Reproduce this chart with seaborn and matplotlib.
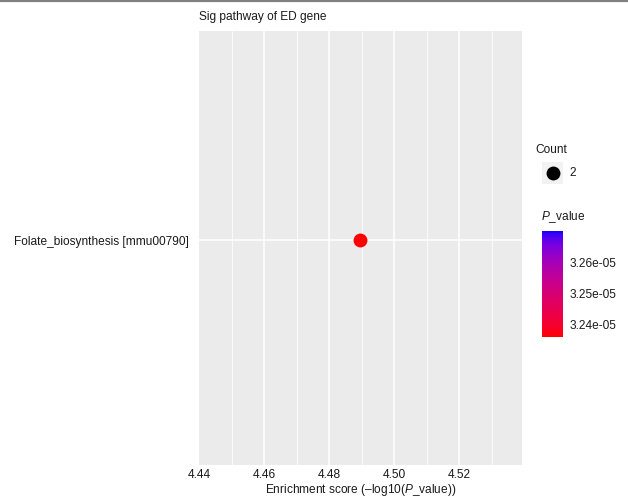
import numpy as np
import pandas as pd
import seaborn as sns
import matplotlib.pyplot as plt
import matplotlib as mpl
from matplotlib.colors import ListedColormap, Normalize
from matplotlib.lines import Line2D

# -----------------------------
# data
# -----------------------------
pathways = ["Folate_biosynthesis [mmu00790]"]
p_values = [3.241e-05]
counts = [2]

cbar_range = (3.2361e-05, 3.2703e-05)
cbar_ticks = [3.24e-05, 3.25e-05, 3.26e-05]
cbar_labels = ["3.24e-05", "3.25e-05", "3.26e-05"]
x_major = [4.44, 4.46, 4.48, 4.50, 4.52]
x_minor = [4.45, 4.47, 4.49, 4.51, 4.53]
x_labels = ["4.44", "4.46", "4.48", "4.50", "4.52"]

df = pd.DataFrame({"pathway": pathways, "P_value": p_values, "Count": counts})
df["score"] = -np.log10(df["P_value"])


# -----------------------------
# red -> blue gradient in Lab space (like ggplot)
# -----------------------------
M = np.array([[0.4124, 0.3576, 0.1805], [0.2126, 0.7152, 0.0722], [0.0193, 0.1192, 0.9505]])
WHITE = np.array([0.95047, 1.0, 1.08883])


def to_lab(rgb):
    c = np.array(rgb, dtype=float)
    c = np.where(c <= 0.04045, c / 12.92, ((c + 0.055) / 1.055) ** 2.4)
    xyz = M @ c / WHITE
    d = 6 / 29
    f = np.where(xyz > d ** 3, np.cbrt(xyz), xyz / (3 * d * d) + 4 / 29)
    return np.array([116 * f[1] - 16, 500 * (f[0] - f[1]), 200 * (f[1] - f[2])])


def from_lab(lab):
    L, a, b = lab
    fy = (L + 16) / 116
    f = np.array([fy + a / 500, fy, fy - b / 200])
    d = 6 / 29
    xyz = np.where(f > d, f ** 3, 3 * d * d * (f - 4 / 29)) * WHITE
    c = np.clip(np.linalg.inv(M) @ xyz, 0, 1)
    c = np.where(c <= 0.0031308, 12.92 * c, 1.055 * c ** (1 / 2.4) - 0.055)
    return np.clip(c, 0, 1)


lab_lo, lab_hi = to_lab([1, 0, 0]), to_lab([0, 0, 1])
cmap = ListedColormap([from_lab(lab_lo + t * (lab_hi - lab_lo)) for t in np.linspace(0, 1, 256)])
norm = Normalize(*cbar_range)
# the lowest P value maps to pure red, as in the reference
point_norm = Normalize(min(p_values), cbar_range[1])

# -----------------------------
# style
# -----------------------------
sns.set_style("white")
plt.rcParams["font.family"] = ["Liberation Sans", "DejaVu Sans"]
plt.rcParams["mathtext.fontset"] = "custom"
plt.rcParams["mathtext.rm"] = "Liberation Sans"
plt.rcParams["mathtext.it"] = "Liberation Sans:italic"
fs = 8.6
txt = "#1a1a1a"

fig = plt.figure(figsize=(6.28, 4.99), dpi=100)
W, H = 628, 499
ax = fig.add_axes([199 / W, 1 - 465 / H, 323 / W, 434 / H])
ax.set_facecolor("#EBEBEB")

sns.scatterplot(data=df, x="score", y="pathway", hue="P_value", palette=cmap,
                hue_norm=point_norm, s=100, linewidth=0, legend=False, ax=ax, zorder=3)

ax.set_xlim(4.44, 4.5392)
ax.set_ylim(0.622, -0.578)
ax.set_xticks(x_major)
ax.set_xticklabels(x_labels)
ax.set_xticks(x_minor, minor=True)
ax.grid(which="major", color="white", lw=1.1)
ax.grid(which="minor", axis="x", color="white", lw=0.55)
ax.xaxis.get_gridlines()[0].set_visible(False)
ax.set_axisbelow(True)
for s in ax.spines.values():
    s.set_visible(False)
ax.tick_params(which="both", length=0, labelsize=fs, labelcolor=txt)
ax.tick_params(axis="x", pad=3)
ax.tick_params(axis="y", pad=7)
ax.set_xlabel("Enrichment score (–log10($\\it{P}$_value))", fontsize=fs, color=txt, labelpad=0.5)
ax.set_ylabel("")

fig.text(199 / W, 1 - 17 / H, "Sig pathway of ED gene", fontsize=fs, color=txt, ha="left", va="center")

# top border line
fig.add_artist(Line2D([0, 1], [1 - 1 / H] * 2, color="#808080", lw=1.6, transform=fig.transFigure))

# -----------------------------
# Count legend
# -----------------------------
fig.text(535 / W, 1 - 150 / H, "Count", fontsize=fs, color=txt, ha="left", va="center")
lax = fig.add_axes([542 / W, 1 - 184 / H, 21 / W, 22 / H])
lax.set_facecolor("#F2F2F2")
lax.scatter([0], [0], s=100, color="black", linewidths=0)
lax.set_xlim(-1, 1)
lax.set_ylim(-1, 1)
lax.set_xticks([])
lax.set_yticks([])
for s in lax.spines.values():
    s.set_visible(False)
fig.text(569 / W, 1 - 173 / H, str(counts[0]), fontsize=fs, color=txt, ha="left", va="center")

# -----------------------------
# P_value colour bar
# -----------------------------
fig.text(541 / W, 1 - 217 / H, "$\\it{P}$_value", fontsize=fs, color=txt, ha="left", va="center")
cax = fig.add_axes([542 / W, 1 - 337 / H, 21 / W, 106 / H])
cb = fig.colorbar(mpl.cm.ScalarMappable(norm=norm, cmap=cmap), cax=cax)
cb.outline.set_visible(False)
cb.set_ticks(cbar_ticks)
cb.set_ticklabels(cbar_labels)
cax.tick_params(direction="in", color="white", length=4, width=0.8, left=True, right=True,
                labelleft=False, labelright=True, labelsize=fs, labelcolor=txt, pad=5)

plt.savefig("out.png", dpi=100)
